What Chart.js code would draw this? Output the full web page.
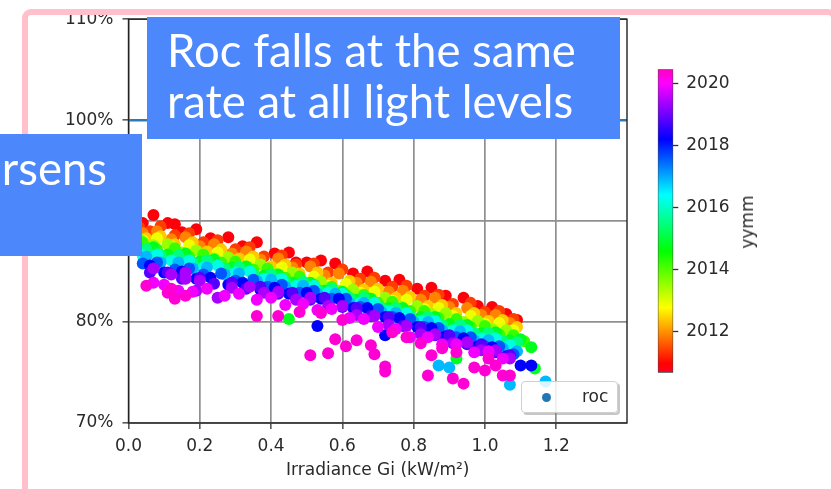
<!DOCTYPE html>
<html><head><meta charset="utf-8">
<script src="https://cdn.jsdelivr.net/npm/chart.js@4.4.1/dist/chart.umd.min.js"></script>
<style>
html,body{margin:0;padding:0;background:#fff;width:831px;height:489px;overflow:hidden;position:relative;font-family:"DejaVu Sans";}
#main{position:absolute;left:0;top:0;}
#cbar{position:absolute;left:640px;top:0;}
.frame{position:absolute;left:22px;top:9px;width:815px;height:520px;border:6px solid #ffc0cb;border-radius:9px;box-sizing:border-box;}
.note{position:absolute;background:#4c87fc;color:#fff;font-family:Lato;font-weight:400;font-size:45.5px;line-height:51px;box-sizing:border-box;white-space:nowrap;overflow:hidden;}
#note1{left:147px;top:17px;width:473px;height:122px;padding:7px 0 0 20px;}
#note2{left:0;top:134px;width:142px;height:122px;padding:8px 35px 0 0;text-align:right;}
#legend{position:absolute;left:521px;top:381px;width:97px;height:32px;box-sizing:border-box;background:rgba(255,255,255,0.85);border:1px solid #d0d0d0;border-radius:4px;box-shadow:2px 2px 0 rgba(128,128,128,0.45);}
#legend .dot{position:absolute;left:20px;top:11px;width:9px;height:9px;border-radius:50%;background:#1f77b4;}
#legend .txt{position:absolute;left:60px;top:4px;font:17px "DejaVu Sans";color:#2a2a2a;line-height:20px;}
#cblabel{position:absolute;left:747px;top:222px;transform:translate(-50%,-50%) rotate(-90deg);font:17px "DejaVu Sans";color:#2a2a2a;white-space:nowrap;}
</style>
</head>
<body>
<canvas id="main" width="831" height="489"></canvas>
<canvas id="cbar" width="120" height="489"></canvas>
<div id="cblabel"></div>
<div id="legend"><span class="dot"></span><span class="txt"></span></div>
<div class="frame"></div>
<div class="note" id="note1">Roc falls at the same<br>rate at all light levels</div>
<div class="note" id="note2">rsens</div>
<script>
// ---- data ----
const seriesName = 'roc';
const xTitle = 'Irradiance Gi (kW/m²)';
const cbTitle = 'yymm';
const xTicks = [0.0, 0.2, 0.4, 0.6, 0.8, 1.0, 1.2];
const yTicks = [70, 80, 90, 100, 110];
const cbTicks = [2012, 2014, 2016, 2018, 2020];
const xMin = 0, xMax = 1.3985, yMin = 70, yMax = 110;
const cbMin = 2010.68, cbMax = 2020.45;
const refLevel = 100;

// [Gi, roc%] per yymm period
const roc2010_9 = [[0.04,89.8],[0.07,90.6],[0.11,89.8],[0.15,88.9],[0.19,89.2],[0.23,88.3],[0.28,88.4],[0.32,87.5],[0.36,87.9],[0.41,86.8],[0.45,86.9],[0.50,85.9],[0.54,86.1],[0.58,85.8],[0.63,84.8],[0.67,85.0],[0.72,84.1],[0.76,84.2],[0.81,83.3],[0.85,83.4],[0.89,82.6],[0.94,82.4],[0.98,81.6],[1.02,81.5],[1.06,80.8],[1.09,80.2],[0.13,89.7],[0.47,85.9]];
const roc2011_4 = [[0.03,89.4],[0.06,89.0],[0.09,89.5],[0.13,88.6],[0.17,88.8],[0.21,87.9],[0.25,88.1],[0.30,87.2],[0.34,87.4],[0.38,86.5],[0.43,86.6],[0.47,85.7],[0.52,85.8],[0.56,84.9],[0.60,85.2],[0.65,84.3],[0.69,84.4],[0.74,83.5],[0.78,83.6],[0.83,82.6],[0.87,82.7],[0.91,81.8],[0.96,81.9],[1.00,81.0],[1.04,81.1],[1.08,80.3]];
const roc2011_9 = [[0.04,88.8],[0.08,89.0],[0.12,88.2],[0.16,88.4],[0.20,87.5],[0.24,87.7],[0.29,86.8],[0.33,87.0],[0.37,86.2],[0.42,86.3],[0.46,85.4],[0.51,85.5],[0.55,84.6],[0.59,84.8],[0.64,83.9],[0.68,84.0],[0.73,83.0],[0.77,83.1],[0.82,82.2],[0.86,82.4],[0.90,81.5],[0.95,81.4],[0.99,80.7],[1.03,80.7],[1.07,79.9]];
const roc2012_4 = [[0.05,88.3],[0.09,88.5],[0.13,87.7],[0.18,87.9],[0.22,87.0],[0.26,87.2],[0.31,86.3],[0.35,86.5],[0.40,85.5],[0.44,85.7],[0.48,84.8],[0.53,84.9],[0.57,83.9],[0.62,84.1],[0.66,83.2],[0.70,83.3],[0.75,82.4],[0.79,82.5],[0.84,81.6],[0.88,81.7],[0.92,80.9],[0.97,80.9],[1.01,80.1],[1.05,80.2],[1.09,79.5]];
const roc2012_9 = [[0.04,88.1],[0.08,88.3],[0.12,87.5],[0.17,87.6],[0.21,86.7],[0.25,86.9],[0.30,86.0],[0.34,86.2],[0.39,85.2],[0.43,85.4],[0.47,84.5],[0.52,84.5],[0.56,83.6],[0.61,83.8],[0.65,82.9],[0.69,83.0],[0.74,82.1],[0.78,82.2],[0.83,81.3],[0.87,81.4],[0.91,80.6],[0.96,80.6],[1.00,79.8],[1.04,79.9],[1.08,79.2]];
const roc2013_5 = [[0.03,88.3],[0.07,87.6],[0.11,87.7],[0.15,86.9],[0.19,87.1],[0.24,86.3],[0.28,86.4],[0.33,85.5],[0.37,85.7],[0.41,84.8],[0.46,84.9],[0.50,83.9],[0.54,84.0],[0.59,83.1],[0.63,83.2],[0.68,82.3],[0.72,82.4],[0.76,81.6],[0.81,81.6],[0.85,80.8],[0.89,80.9],[0.94,80.0],[0.98,80.1],[1.02,79.3],[1.06,79.2]];
const roc2014_2 = [[0.04,87.9],[0.08,87.2],[0.13,87.3],[0.17,86.5],[0.21,86.7],[0.26,85.9],[0.30,86.0],[0.35,85.2],[0.39,85.3],[0.44,84.4],[0.48,84.5],[0.52,83.7],[0.57,83.5],[0.61,82.7],[0.66,82.7],[0.70,81.9],[0.74,82.0],[0.79,81.1],[0.83,81.1],[0.87,80.4],[0.92,80.3],[0.96,79.5],[1.00,79.6],[1.04,78.8],[1.08,78.7],[1.11,78.1]];
const roc2014_8 = [[0.03,87.3],[0.07,87.4],[0.11,86.7],[0.16,86.8],[0.20,86.0],[0.24,86.2],[0.29,85.4],[0.33,85.5],[0.38,84.6],[0.42,84.7],[0.46,83.9],[0.51,83.9],[0.55,83.1],[0.60,83.0],[0.64,82.2],[0.68,82.3],[0.73,81.4],[0.77,81.4],[0.82,80.5],[0.86,80.5],[0.90,79.8],[0.95,79.7],[0.99,78.9],[1.03,79.0],[1.07,78.2],[1.10,78.3],[1.13,77.5],[0.45,80.3],[0.92,76.4],[1.14,75.4]];
const roc2015_5 = [[0.05,87.2],[0.09,86.6],[0.14,86.6],[0.18,85.9],[0.22,86.1],[0.27,85.3],[0.31,85.4],[0.35,84.7],[0.40,84.7],[0.44,84.0],[0.49,84.0],[0.53,83.2],[0.57,83.3],[0.62,82.4],[0.66,82.4],[0.71,81.4],[0.75,81.4],[0.79,80.6],[0.84,80.5],[0.88,79.7],[0.93,79.7],[0.97,78.9],[1.01,78.9],[1.05,78.1],[1.09,78.0]];
const roc2016_2 = [[0.04,86.6],[0.08,86.7],[0.12,86.1],[0.17,86.1],[0.21,85.4],[0.25,85.6],[0.30,84.9],[0.34,85.0],[0.38,84.3],[0.43,84.3],[0.47,83.6],[0.52,83.6],[0.56,82.9],[0.60,82.8],[0.65,81.9],[0.69,81.9],[0.73,81.1],[0.78,80.9],[0.82,80.1],[0.86,80.1],[0.91,79.2],[0.95,79.2],[0.99,78.4],[1.03,78.4],[1.07,77.7]];
const roc2016_9 = [[0.05,86.5],[0.09,85.9],[0.14,85.9],[0.18,85.3],[0.22,85.4],[0.27,84.7],[0.31,84.8],[0.36,84.1],[0.40,84.2],[0.44,83.5],[0.49,83.6],[0.53,82.8],[0.58,82.8],[0.62,81.9],[0.66,81.9],[0.71,81.0],[0.75,80.9],[0.80,80.0],[0.84,80.0],[0.88,79.2],[0.93,79.1],[0.97,78.2],[1.01,78.2],[1.05,77.4],[1.09,77.1],[0.87,75.7],[0.90,75.5],[1.07,73.8],[1.17,74.1]];
const roc2017_6 = [[0.04,85.8],[0.08,85.9],[0.13,85.2],[0.17,85.3],[0.21,84.7],[0.26,84.8],[0.30,84.1],[0.35,84.2],[0.39,83.5],[0.43,83.7],[0.48,82.9],[0.52,83.1],[0.57,82.3],[0.61,82.3],[0.65,81.5],[0.70,81.3],[0.74,80.5],[0.79,80.3],[0.83,79.5],[0.87,79.4],[0.92,78.5],[0.96,78.5],[1.00,77.6],[1.04,77.6],[1.08,76.8]];
const roc2018_2 = [[0.06,85.6],[0.10,84.9],[0.15,85.0],[0.19,84.3],[0.23,84.4],[0.28,83.7],[0.32,83.9],[0.37,83.2],[0.41,83.4],[0.45,82.8],[0.50,82.9],[0.54,82.3],[0.59,82.3],[0.63,81.4],[0.67,81.4],[0.72,80.5],[0.76,80.4],[0.81,79.5],[0.85,79.4],[0.89,78.6],[0.94,78.4],[0.98,77.6],[1.02,77.5],[1.06,76.6],[0.53,79.6],[0.72,78.7],[1.10,75.7],[1.13,75.7]];
const roc2018_8 = [[0.06,84.9],[0.11,84.9],[0.15,84.3],[0.20,84.4],[0.24,83.8],[0.29,83.9],[0.33,83.3],[0.37,83.5],[0.42,82.8],[0.46,82.9],[0.51,82.2],[0.55,82.4],[0.60,81.5],[0.64,81.4],[0.68,80.6],[0.73,80.5],[0.77,79.6],[0.82,79.5],[0.86,78.7],[0.90,78.7],[0.95,77.8],[0.99,77.8],[1.03,77.0],[1.07,76.7]];
const roc2019_4 = [[0.07,85.3],[0.12,84.7],[0.16,84.9],[0.16,84.3],[0.19,83.1],[0.20,84.1],[0.25,82.4],[0.29,83.4],[0.34,83.5],[0.38,82.9],[0.42,83.0],[0.47,82.2],[0.51,82.4],[0.56,81.6],[0.60,81.6],[0.64,80.7],[0.69,80.6],[0.73,79.7],[0.78,79.6],[0.82,78.8],[0.86,78.8],[0.91,77.9],[0.95,78.0],[0.99,77.2],[1.03,77.2],[1.07,76.4]];
const roc2019_9 = [[0.07,83.9],[0.10,83.7],[0.14,83.1],[0.18,83.0],[0.22,83.3],[0.27,82.6],[0.31,82.8],[0.36,82.2],[0.40,82.4],[0.44,81.7],[0.49,81.8],[0.53,81.2],[0.57,81.3],[0.62,80.4],[0.66,80.3],[0.70,79.5],[0.75,79.3],[0.79,78.5],[0.84,78.5],[0.88,77.8],[0.92,77.8],[0.97,77.0],[1.01,77.1],[1.05,76.4]];
const roc2020_3 = [[0.05,83.6],[0.12,83.3],[0.11,82.9],[0.16,82.6],[0.13,82.3],[0.36,80.6],[0.42,80.6],[0.48,81.0],[0.51,76.7],[0.54,80.9],[0.56,76.9],[0.58,78.3],[0.60,80.2],[0.61,77.6],[0.64,78.2],[0.68,77.7],[0.69,76.8],[0.72,75.6],[0.72,75.1],[0.74,79.0],[0.78,78.5],[0.82,77.9],[0.84,74.7],[0.85,76.7],[0.88,77.4],[0.91,74.4],[0.92,77.0],[0.94,73.9],[0.97,75.5],[1.00,75.2],[1.01,76.4],[1.03,75.7],[1.05,74.7],[1.07,74.7]];

const periods = [2010.9, 2011.4, 2011.9, 2012.4, 2012.9, 2013.5, 2014.2, 2014.8, 2015.5, 2016.2, 2016.9, 2017.6, 2018.2, 2018.8, 2019.4, 2019.9, 2020.3];
const periodData = [roc2010_9, roc2011_4, roc2011_9, roc2012_4, roc2012_9, roc2013_5, roc2014_2, roc2014_8, roc2015_5, roc2016_2, roc2016_9, roc2017_6, roc2018_2, roc2018_8, roc2019_4, roc2019_9, roc2020_3];

// gist_rainbow colormap
const cmapStops = [[0,[255,0,41]],[0.03,[255,0,0]],[0.215,[255,255,0]],[0.4,[0,255,0]],[0.586,[0,255,255]],[0.77,[0,0,255]],[0.954,[255,0,255]],[1,[255,0,191]]];
function cmap(t){
  t = Math.max(0, Math.min(1, t));
  for (let i = 1; i < cmapStops.length; i++) {
    const [t0, c0] = cmapStops[i-1], [t1, c1] = cmapStops[i];
    if (t <= t1) {
      const f = (t - t0) / (t1 - t0);
      return 'rgb(' + c0.map((v,k)=>Math.round(v + (c1[k]-v)*f)).join(',') + ')';
    }
  }
  return 'rgb(255,0,191)';
}

const pts = [], cols = [];
periods.forEach((p, i) => {
  const c = cmap((p - cbMin) / (cbMax - cbMin));
  periodData[i].forEach(([g, r]) => { pts.push({x: g, y: r}); cols.push(c); });
});
const refPts = [{x: xMin, y: refLevel}, {x: xMax, y: refLevel}];

document.getElementById('cblabel').textContent = cbTitle;
document.querySelector('#legend .txt').textContent = seriesName;

const tickFont = {family: 'DejaVu Sans', size: 17};
const spines = {id: 'spines', afterDraw(chart){
  const {ctx, chartArea: a} = chart;
  ctx.save(); ctx.strokeStyle = '#222'; ctx.lineWidth = 1.4;
  ctx.strokeRect(a.left, a.top, a.right - a.left, a.bottom - a.top);
  ctx.restore();
}};

new Chart(document.getElementById('main'), {
  type: 'scatter',
  data: {datasets: [
    {label: seriesName, data: pts, pointBackgroundColor: cols, pointBorderWidth: 0, pointRadius: 6, pointHoverRadius: 6},
    {type: 'line', label: 'ref', data: refPts, borderColor: '#2b7bb9', borderWidth: 2.5, pointRadius: 0, showLine: true, fill: false}
  ]},
  options: {
    animation: false, responsive: false, devicePixelRatio: 1,
    layout: {padding: {left: 0, right: 204, top: 19, bottom: 8}},
    plugins: {legend: {display: false}, tooltip: {enabled: false}},
    events: [],
    scales: {
      x: {type: 'linear', min: xMin, max: xMax, z: 1,
        afterBuildTicks: s => { s.ticks = xTicks.map(v => ({value: v})); },
        afterFit: s => { s.height = 58; },
        grid: {color: '#8f8f8f', lineWidth: 1.7, tickLength: 6, tickColor: '#333', tickWidth: 1.3},
        border: {display: false},
        ticks: {font: tickFont, color: '#2a2a2a', padding: 7, maxRotation: 0, callback: v => Number(v).toFixed(1)},
        title: {display: true, text: xTitle, font: tickFont, color: '#2a2a2a', padding: {top: 4, bottom: 0}}
      },
      y: {type: 'linear', min: yMin, max: yMax, z: 1,
        afterBuildTicks: s => { s.ticks = yTicks.map(v => ({value: v})); },
        afterFit: s => { s.width = 128.5; },
        grid: {color: c => (c.tick && c.tick.value === refLevel) ? 'rgba(0,0,0,0)' : '#8f8f8f', lineWidth: 1.7, tickLength: 6, tickColor: '#333', tickWidth: 1.3},
        border: {display: false},
        ticks: {font: tickFont, color: '#2a2a2a', padding: 9, callback: v => v + '%'}
      }
    }
  },
  plugins: [spines]
});

new Chart(document.getElementById('cbar'), {
  type: 'bar',
  data: {labels: [''], datasets: [{
    data: [[cbMin, cbMax]],
    backgroundColor: ctx => {
      const ch = ctx.chart; if (!ch.chartArea) return '#f00';
      const sy = ch.scales.y;
      const g = ch.ctx.createLinearGradient(0, sy.getPixelForValue(cbMin), 0, sy.getPixelForValue(cbMax));
      cmapStops.forEach(([t, c]) => g.addColorStop(t, 'rgb(' + c.join(',') + ')'));
      return g;
    },
    borderColor: '#444', borderWidth: 1, borderSkipped: false, barPercentage: 1, categoryPercentage: 1
  }]},
  options: {
    animation: false, responsive: false, devicePixelRatio: 1, events: [],
    layout: {padding: {left: 17.7, right: 0, top: 69.3, bottom: 116.3}},
    plugins: {legend: {display: false}, tooltip: {enabled: false}},
    scales: {
      x: {display: false},
      y: {position: 'right', min: cbMin, max: cbMax,
        afterBuildTicks: s => { s.ticks = cbTicks.map(v => ({value: v})); },
        afterFit: s => { s.width = 86.7; },
        grid: {drawOnChartArea: false, drawTicks: true, tickLength: 5, tickColor: '#333', tickWidth: 1.3},
        border: {display: false},
        ticks: {font: tickFont, color: '#2a2a2a', padding: 8, callback: v => String(v)}
      }
    }
  }
});
</script>
</body></html>
